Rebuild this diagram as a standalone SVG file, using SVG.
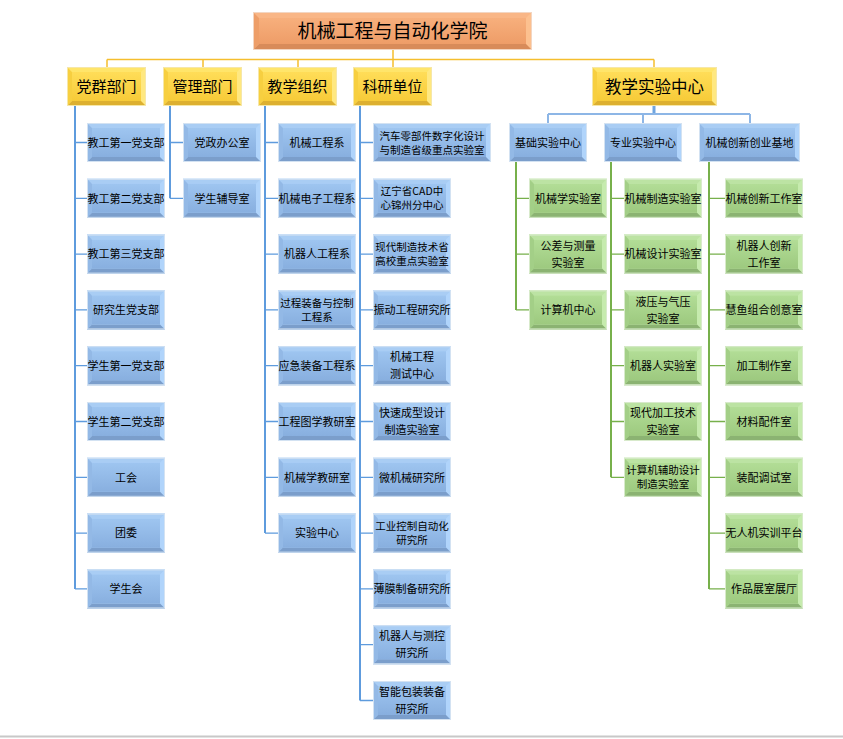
<svg xmlns="http://www.w3.org/2000/svg" xmlns:xlink="http://www.w3.org/1999/xlink" width="843" height="739" viewBox="0 0 843 739">
<style>
text{font-family:"Noto Sans CJK SC","Noto Sans",sans-serif;text-anchor:middle;fill:#000}
.t11{font-size:11px}
.t105{font-size:10.5px}
.t15{font-size:15px}
.t17{font-size:16.5px}
.t19{font-size:19px}
.blue .r{fill:#B0D4FB}.blue .tp{fill:#A9CDF4}.blue .l{fill:#93B9E6}.blue .bt{fill:#7B9ECB}.blue .f{fill:url(#gBlue)}.blue .bd{stroke:#D3E2F2}
.green .r{fill:#C6EBAE}.green .tp{fill:#BCE3A3}.green .l{fill:#A3CF87}.green .bt{fill:#8BB372}.green .f{fill:url(#gGreen)}.green .bd{stroke:#D8EACB}
.yel .r{fill:#FFE880}.yel .tp{fill:#FFE56A}.yel .l{fill:#F7CF40}.yel .bt{fill:#DDB030}.yel .f{fill:url(#gYel)}.yel .bd{stroke:#F6E7A8}
.org .r{fill:#FCC08F}.org .tp{fill:#F9B686}.org .l{fill:#EE9E68}.org .bt{fill:#D88B5A}.org .f{fill:url(#gOrg)}.org .bd{stroke:#F3D6C2}
.bd{fill:none;stroke-width:1}
.cy{stroke:#F5BE2E;stroke-width:1.5;fill:none}
.cb{stroke:#5E9BDD;fill:none}
.cg{stroke:#77B04B;fill:none}
.v{stroke-width:2}
.h{stroke-width:1.3}
</style>
<defs>
<linearGradient id="gBlue" x1="0" y1="0" x2="0" y2="1"><stop offset="0" stop-color="#9EC5F0"/><stop offset="1" stop-color="#88AFDF"/></linearGradient>
<linearGradient id="gGreen" x1="0" y1="0" x2="0" y2="1"><stop offset="0" stop-color="#B2DD96"/><stop offset="1" stop-color="#9DC97F"/></linearGradient>
<linearGradient id="gYel" x1="0" y1="0" x2="0" y2="1"><stop offset="0" stop-color="#FFDD58"/><stop offset="1" stop-color="#F7CB38"/></linearGradient>
<linearGradient id="gOrg" x1="0" y1="0" x2="0" y2="1"><stop offset="0" stop-color="#F7AF7C"/><stop offset="1" stop-color="#EE9D68"/></linearGradient>
<g id="bb78" class="blue"><rect class="r" width="78" height="39"/><polygon class="tp" points="0,0 78,0 73,5 5,5"/><polygon class="l" points="0,0 5,5 5,34 0,39"/><polygon class="bt" points="0,39 5,34 73,34 78,39"/><rect class="f" x="5" y="5" width="68" height="29"/><rect class="bd" x="0.5" y="0.5" width="77" height="38"/></g>
<g id="bb118" class="blue"><rect class="r" width="118" height="39"/><polygon class="tp" points="0,0 118,0 113,5 5,5"/><polygon class="l" points="0,0 5,5 5,34 0,39"/><polygon class="bt" points="0,39 5,34 113,34 118,39"/><rect class="f" x="5" y="5" width="108" height="29"/><rect class="bd" x="0.5" y="0.5" width="117" height="38"/></g>
<g id="bb101" class="blue"><rect class="r" width="101" height="39"/><polygon class="tp" points="0,0 101,0 96,5 5,5"/><polygon class="l" points="0,0 5,5 5,34 0,39"/><polygon class="bt" points="0,39 5,34 96,34 101,39"/><rect class="f" x="5" y="5" width="91" height="29"/><rect class="bd" x="0.5" y="0.5" width="100" height="38"/></g>
<g id="bg78" class="green"><rect class="r" width="78" height="39"/><polygon class="tp" points="0,0 78,0 73,5 5,5"/><polygon class="l" points="0,0 5,5 5,34 0,39"/><polygon class="bt" points="0,39 5,34 73,34 78,39"/><rect class="f" x="5" y="5" width="68" height="29"/><rect class="bd" x="0.5" y="0.5" width="77" height="38"/></g>
<g id="by79" class="yel"><rect class="r" width="79" height="39"/><polygon class="tp" points="0,0 79,0 74,5 5,5"/><polygon class="l" points="0,0 5,5 5,34 0,39"/><polygon class="bt" points="0,39 5,34 74,34 79,39"/><rect class="f" x="5" y="5" width="69" height="29"/><rect class="bd" x="0.5" y="0.5" width="78" height="38"/></g>
<g id="by125" class="yel"><rect class="r" width="125" height="39"/><polygon class="tp" points="0,0 125,0 120,5 5,5"/><polygon class="l" points="0,0 5,5 5,34 0,39"/><polygon class="bt" points="0,39 5,34 120,34 125,39"/><rect class="f" x="5" y="5" width="115" height="29"/><rect class="bd" x="0.5" y="0.5" width="124" height="38"/></g>
<g id="bo279" class="org"><rect class="r" width="279" height="38"/><polygon class="tp" points="0,0 279,0 273,6 6,6"/><polygon class="l" points="0,0 6,6 6,32 0,38"/><polygon class="bt" points="0,38 6,32 273,32 279,38"/><rect class="f" x="6" y="6" width="267" height="26"/><rect class="bd" x="0.5" y="0.5" width="278" height="37"/></g>
</defs>
<rect width="843" height="739" fill="#fff"/>
<line x1="0" y1="736.5" x2="843" y2="736.5" stroke="#c8c8c8" stroke-width="2"/>

<g id="connectors">
<path class="cy" d="M393,50V59.5M107,59.5H654M107,59.5V67M203,59.5V67M298,59.5V67M393,59.5V67M654,59.5V67"/>
<path class="cb v" d="M75,106V588.9M170,106V198.3M265,106V533.1M360,106V700.5"/>
<path class="cb h" d="M75,142.5H87M75,198.3H87M75,254.1H87M75,309.9H87M75,365.7H87M75,421.5H87M75,477.3H87M75,533.1H87M75,588.9H87"/>
<path class="cb h" d="M170,142.5H183M170,198.3H183"/>
<path class="cb h" d="M265,142.5H278M265,198.3H278M265,254.1H278M265,309.9H278M265,365.7H278M265,421.5H278M265,477.3H278M265,533.1H278"/>
<path class="cb h" d="M360,142.5H373M360,198.3H373M360,254.1H373M360,309.9H373M360,365.7H373M360,421.5H373M360,477.3H373M360,533.1H373M360,588.9H373M360,644.7H373M360,700.5H373"/>
<path d="M654,106V114" stroke="#6FA5E0" stroke-width="3" fill="none"/>
<path d="M548,114H750M548,114V123M643,114V123M750,114V123" stroke="#8DB6E6" stroke-width="2" fill="none"/>
<path class="cg v" d="M516,162V309.9M611,162V477.3M709,162V588.9"/>
<path class="cg h" d="M516,198.3H529M516,254.1H529M516,309.9H529"/>
<path class="cg h" d="M611,198.3H624M611,254.1H624M611,309.9H624M611,365.7H624M611,421.5H624M611,477.3H624"/>
<path class="cg h" d="M709,198.3H725M709,254.1H725M709,309.9H725M709,365.7H725M709,421.5H725M709,477.3H725M709,533.1H725M709,588.9H725"/>
</g>

<g id="root"><use href="#bo279" x="253" y="12"/><text class="t19" x="392.5" y="38.2">机械工程与自动化学院</text></g>

<g id="l1-dangqun"><use href="#by79" x="67" y="67"/><text class="t15" x="106.5" y="92.2">党群部门</text></g>
<g id="l1-guanli"><use href="#by79" x="163" y="67"/><text class="t15" x="202.5" y="92.2">管理部门</text></g>
<g id="l1-jiaoxue"><use href="#by79" x="258" y="67"/><text class="t15" x="297.5" y="92.2">教学组织</text></g>
<g id="l1-keyan"><use href="#by79" x="353" y="67"/><text class="t15" x="392.5" y="92.2">科研单位</text></g>
<g id="l1-shiyan"><use href="#by125" x="592" y="67"/><text class="t17" x="654.5" y="92.8">教学实验中心</text></g>

<g id="a0"><use href="#bb78" x="87" y="123"/><text class="t11" x="126" y="146.7">教工第一党支部</text></g>
<g id="a1"><use href="#bb78" x="87" y="178.8"/><text class="t11" x="126" y="202.5">教工第二党支部</text></g>
<g id="a2"><use href="#bb78" x="87" y="234.6"/><text class="t11" x="126" y="258.3">教工第三党支部</text></g>
<g id="a3"><use href="#bb78" x="87" y="290.4"/><text class="t11" x="126" y="314.1">研究生党支部</text></g>
<g id="a4"><use href="#bb78" x="87" y="346.2"/><text class="t11" x="126" y="369.9">学生第一党支部</text></g>
<g id="a5"><use href="#bb78" x="87" y="402"/><text class="t11" x="126" y="425.7">学生第二党支部</text></g>
<g id="a6"><use href="#bb78" x="87" y="457.8"/><text class="t11" x="126" y="481.5">工会</text></g>
<g id="a7"><use href="#bb78" x="87" y="513.6"/><text class="t11" x="126" y="537.3">团委</text></g>
<g id="a8"><use href="#bb78" x="87" y="569.4"/><text class="t11" x="126" y="593.1">学生会</text></g>

<g id="b0"><use href="#bb78" x="183" y="123"/><text class="t11" x="222" y="146.7">党政办公室</text></g>
<g id="b1"><use href="#bb78" x="183" y="178.8"/><text class="t11" x="222" y="202.5">学生辅导室</text></g>

<g id="c0"><use href="#bb78" x="278" y="123"/><text class="t11" x="317" y="146.7">机械工程系</text></g>
<g id="c1"><use href="#bb78" x="278" y="178.8"/><text class="t11" x="317" y="202.5">机械电子工程系</text></g>
<g id="c2"><use href="#bb78" x="278" y="234.6"/><text class="t11" x="317" y="258.3">机器人工程系</text></g>
<g id="c3"><use href="#bb78" x="278" y="290.4"/><text class="t105" x="317" y="306.9">过程装备与控制</text><text class="t105" x="317" y="320.9">工程系</text></g>
<g id="c4"><use href="#bb78" x="278" y="346.2"/><text class="t11" x="317" y="369.9">应急装备工程系</text></g>
<g id="c5"><use href="#bb78" x="278" y="402"/><text class="t11" x="317" y="425.7">工程图学教研室</text></g>
<g id="c6"><use href="#bb78" x="278" y="457.8"/><text class="t11" x="317" y="481.5">机械学教研室</text></g>
<g id="c7"><use href="#bb78" x="278" y="513.6"/><text class="t11" x="317" y="537.3">实验中心</text></g>

<g id="d0"><use href="#bb118" x="373" y="123"/><text class="t105" x="432" y="139.5">汽车零部件数字化设计</text><text class="t105" x="432" y="153.5">与制造省级重点实验室</text></g>
<g id="d1"><use href="#bb78" x="373" y="178.8"/><text class="t105" x="412" y="195.3">辽宁省CAD中</text><text class="t105" x="412" y="209.3">心锦州分中心</text></g>
<g id="d2"><use href="#bb78" x="373" y="234.6"/><text class="t105" x="412" y="251.1">现代制造技术省</text><text class="t105" x="412" y="265.1">高校重点实验室</text></g>
<g id="d3"><use href="#bb78" x="373" y="290.4"/><text class="t11" x="412" y="314.1">振动工程研究所</text></g>
<g id="d4"><use href="#bb78" x="373" y="346.2"/><text class="t11" x="412" y="361.4">机械工程</text><text class="t11" x="412" y="378.4">测试中心</text></g>
<g id="d5"><use href="#bb78" x="373" y="402"/><text class="t11" x="412" y="417.2">快速成型设计</text><text class="t11" x="412" y="434.2">制造实验室</text></g>
<g id="d6"><use href="#bb78" x="373" y="457.8"/><text class="t11" x="412" y="481.5">微机械研究所</text></g>
<g id="d7"><use href="#bb78" x="373" y="513.6"/><text class="t105" x="412" y="530.1">工业控制自动化</text><text class="t105" x="412" y="544.1">研究所</text></g>
<g id="d8"><use href="#bb78" x="373" y="569.4"/><text class="t11" x="412" y="593.1">薄膜制备研究所</text></g>
<g id="d9"><use href="#bb78" x="373" y="625.2"/><text class="t11" x="412" y="640.4">机器人与测控</text><text class="t11" x="412" y="657.4">研究所</text></g>
<g id="d10"><use href="#bb78" x="373" y="681"/><text class="t11" x="412" y="696.2">智能包装装备</text><text class="t11" x="412" y="713.2">研究所</text></g>

<g id="l2-jichu"><use href="#bb78" x="509" y="123"/><text class="t11" x="548" y="146.7">基础实验中心</text></g>
<g id="l2-zhuanye"><use href="#bb78" x="604" y="123"/><text class="t11" x="643" y="146.7">专业实验中心</text></g>
<g id="l2-chuangxin"><use href="#bb101" x="699" y="123"/><text class="t11" x="749.5" y="146.7">机械创新创业基地</text></g>

<g id="e1"><use href="#bg78" x="529" y="178.8"/><text class="t11" x="568" y="202.5">机械学实验室</text></g>
<g id="e2"><use href="#bg78" x="529" y="234.6"/><text class="t11" x="568" y="249.8">公差与测量</text><text class="t11" x="568" y="266.8">实验室</text></g>
<g id="e3"><use href="#bg78" x="529" y="290.4"/><text class="t11" x="568" y="314.1">计算机中心</text></g>

<g id="f1"><use href="#bg78" x="624" y="178.8"/><text class="t11" x="663" y="202.5">机械制造实验室</text></g>
<g id="f2"><use href="#bg78" x="624" y="234.6"/><text class="t11" x="663" y="258.3">机械设计实验室</text></g>
<g id="f3"><use href="#bg78" x="624" y="290.4"/><text class="t11" x="663" y="305.6">液压与气压</text><text class="t11" x="663" y="322.6">实验室</text></g>
<g id="f4"><use href="#bg78" x="624" y="346.2"/><text class="t11" x="663" y="369.9">机器人实验室</text></g>
<g id="f5"><use href="#bg78" x="624" y="402"/><text class="t11" x="663" y="417.2">现代加工技术</text><text class="t11" x="663" y="434.2">实验室</text></g>
<g id="f6"><use href="#bg78" x="624" y="457.8"/><text class="t105" x="663" y="474.3">计算机辅助设计</text><text class="t105" x="663" y="488.3">制造实验室</text></g>

<g id="g1"><use href="#bg78" x="725" y="178.8"/><text class="t11" x="764" y="202.5">机械创新工作室</text></g>
<g id="g2"><use href="#bg78" x="725" y="234.6"/><text class="t11" x="764" y="249.8">机器人创新</text><text class="t11" x="764" y="266.8">工作室</text></g>
<g id="g3"><use href="#bg78" x="725" y="290.4"/><text class="t11" x="764" y="314.1">慧鱼组合创意室</text></g>
<g id="g4"><use href="#bg78" x="725" y="346.2"/><text class="t11" x="764" y="369.9">加工制作室</text></g>
<g id="g5"><use href="#bg78" x="725" y="402"/><text class="t11" x="764" y="425.7">材料配件室</text></g>
<g id="g6"><use href="#bg78" x="725" y="457.8"/><text class="t11" x="764" y="481.5">装配调试室</text></g>
<g id="g7"><use href="#bg78" x="725" y="513.6"/><text class="t11" x="764" y="537.3">无人机实训平台</text></g>
<g id="g8"><use href="#bg78" x="725" y="569.4"/><text class="t11" x="764" y="593.1">作品展室展厅</text></g>
</svg>
